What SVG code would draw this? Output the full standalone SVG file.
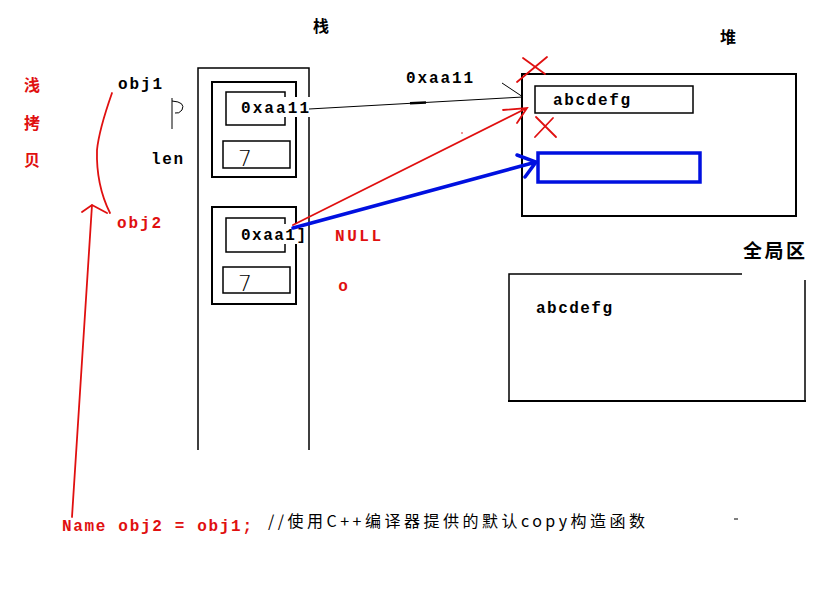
<svg xmlns="http://www.w3.org/2000/svg" width="815" height="596" viewBox="0 0 815 596">
<style>
.m{font-family:"Liberation Mono","DejaVu Sans Mono",monospace;font-weight:bold;font-size:16px}
.cj{font-family:"Noto Sans CJK SC","Noto Sans CJK JP",sans-serif;font-weight:bold}
.k{fill:none;stroke:#000;stroke-width:1.5}
.k2{fill:none;stroke:#000;stroke-width:2}
.r{fill:none;stroke:#e01010;stroke-width:1.8;stroke-linecap:round}
.b{fill:none;stroke:#0010e0;stroke-width:3.5;stroke-linecap:round}
.red{fill:#e01010}
.seven{font-family:"DejaVu Sans",sans-serif;font-size:22px;font-weight:300}
</style>
<rect width="815" height="596" fill="#fff"/>

<g id="labels">
<text x="321" y="32" class="cj" font-size="16" text-anchor="middle">栈</text>
<text x="728" y="43" class="cj" font-size="16" text-anchor="middle">堆</text>
<text x="743" y="258" class="cj" font-size="19" textLength="62">全局区</text>
<text x="32" y="91" class="cj red" font-size="16" text-anchor="middle">浅</text>
<text x="32" y="129" class="cj red" font-size="16" text-anchor="middle">拷</text>
<text x="32" y="166" class="cj red" font-size="16" text-anchor="middle">贝</text>
<text x="118" y="89" class="m" textLength="44">obj1</text>
<text x="117" y="228" class="m red" textLength="44">obj2</text>
<text x="151" y="164" class="m" textLength="32">len</text>
<text x="406" y="83" class="m" textLength="67">0xaa11</text>
<text x="335" y="241" class="m red" font-size="17" textLength="46">NULL</text>
<text x="343" y="291" class="m red" font-size="12" text-anchor="middle">o</text>
<circle cx="462" cy="133" r="0.8" fill="#e01010"/>
<text x="62" y="531" class="m red" textLength="190">Name obj2 = obj1;</text>
<text x="268" y="527" font-family="Noto Sans CJK SC, sans-serif" font-size="16" textLength="377">//使用C++编译器提供的默认copy构造函数</text>
<line x1="734" y1="519" x2="738" y2="519" stroke="#000" stroke-width="1"/>
</g>

<g id="stack">
<path class="k" d="M198 450 V68 H309 V450"/>
</g>

<g id="obj1">
<rect class="k2" x="212" y="82" width="84" height="95"/>
<rect class="k" x="226" y="92" width="59" height="33"/>
<rect class="k" x="223" y="141" width="67" height="27"/>
<rect x="240" y="97" width="70" height="20" fill="#fff"/>
<text x="241" y="113" class="m" font-size="17" textLength="68">0xaa11</text>
<text x="238" y="166" class="seven">7</text>
</g>

<g id="obj2">
<rect class="k2" x="212" y="207" width="84" height="97"/>
<rect class="k" x="226" y="218" width="59" height="34"/>
<rect class="k" x="223" y="267" width="67" height="26"/>
<rect x="240" y="224" width="67" height="20" fill="#fff"/>
<text x="241" y="240" class="m" font-size="17" textLength="65">0xaa1]</text>
<text x="238" y="291" class="seven">7</text>
</g>

<g id="heap">
<rect class="k2" x="522" y="74" width="274" height="142"/>
<rect class="k" x="535" y="86" width="158" height="27"/>
<text x="553" y="105" class="m" textLength="77">abcdefg</text>
<rect x="538" y="153" width="162" height="29" fill="none" stroke="#0010e0" stroke-width="3.5"/>
</g>

<g id="global">
<path class="k" d="M742 274 H509 V401"/>
<path class="k" d="M805 280 V401"/>
<line x1="508" y1="401" x2="806" y2="401" stroke="#000" stroke-width="2"/>
<text x="536" y="313" class="m" textLength="76">abcdefg</text>
</g>

<g id="connectors">
<path d="M309 109 L523 97" stroke="#000" stroke-width="1" fill="none"/>
<path d="M410 103.3 L426 102.4" stroke="#000" stroke-width="2.5"/>
<path d="M502 83 L523 97" stroke="#000" stroke-width="1" fill="none"/>
<path class="r" d="M293 225 L527 108 M503 110 L527 108 L517 123"/>
<path class="b" d="M293 228 L536 162 M517 155 L536 162 L525 177"/>
<path class="r" stroke-width="2.2" d="M112 93 Q99 130 97 150 Q96 185 110 213"/>
<path class="r" stroke-width="2.2" d="M72 517 L92 205 M82 212 L92 205 L107 213"/>
<path class="r" d="M517 82 L547 57 M523 58 L545 74"/>
<path class="r" d="M535 137 L553 118 M536 117 L556 137"/>
<path d="M172 98 V129 M172 101 Q186 102 182 110 Q179 114 175 113" stroke="#000" stroke-width="1" fill="none"/>
</g>
</svg>
